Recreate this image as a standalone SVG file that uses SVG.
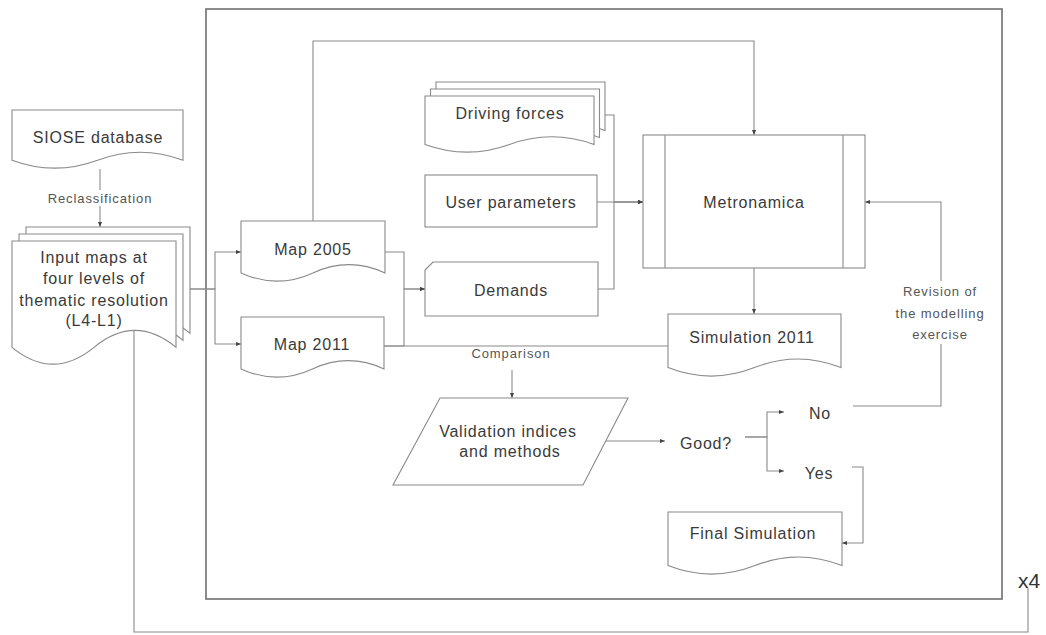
<svg xmlns="http://www.w3.org/2000/svg" width="1046" height="635" viewBox="0 0 1046 635">
<style>
.s{fill:#fff;stroke:#8a8a8a;stroke-width:1.1}
.c{fill:none;stroke:#8a8a8a;stroke-width:1.1}
.ca{fill:none;stroke:#8a8a8a;stroke-width:1.1;marker-end:url(#ah)}
.t{font-family:"Liberation Sans",Arial,Helvetica,sans-serif;font-size:16px;letter-spacing:0.8px;fill:#3a3a3a;text-anchor:middle;dominant-baseline:central}
.l{font-family:"Liberation Sans",Arial,Helvetica,sans-serif;font-size:13px;letter-spacing:0.9px;fill:#555;text-anchor:middle;dominant-baseline:central}
.bg{fill:#fff;stroke:none}
</style>
<defs>
<marker id="ah" viewBox="0 0 10 10" refX="10" refY="5" markerWidth="6" markerHeight="5" markerUnits="userSpaceOnUse" orient="auto">
<path d="M0,1 L10,5 L0,9 Z" fill="#444"/>
</marker>
</defs>
<rect width="1046" height="635" fill="#fff"/>

<g id="frame">
<rect x="206" y="9" width="796" height="590" fill="none" stroke="#707070" stroke-width="1.6"/>
</g>

<g id="connectors">
<path class="ca" d="M100,169 V227"/>
<rect class="bg" x="44" y="190" width="112" height="16"/>
<text class="l" x="100" y="198">Reclassification</text>
<path class="ca" d="M190,289 H215 V252 H241"/>
<path class="ca" d="M190,289 H215 V344 H241"/>
<path class="ca" d="M313,221 V41 H754 V135"/>
<path class="ca" d="M385,252 H404 V289 H425"/>
<path class="ca" d="M384,346 H404 V289 H425"/>
<path class="c" d="M384,346 H668"/>
<text class="l" x="511" y="353">Comparison</text>
<path class="ca" d="M512,370 V398"/>
<path class="ca" d="M605,115 H614 V202 H643"/>
<path class="ca" d="M597,202 H643"/>
<path class="ca" d="M598,289 H614 V202 H643"/>
<path class="ca" d="M754,268 V314"/>
<path class="ca" d="M606,441 H665"/>
<path class="ca" d="M745,437 H767 V412 H784"/>
<path class="ca" d="M745,437 H767 V471 H784"/>
<path class="ca" d="M853,406 H941 V202 H865"/>
<rect class="bg" x="894" y="281" width="94" height="63"/>
<text class="l" x="940" y="291">Revision of</text>
<text class="l" x="940" y="313">the modelling</text>
<text class="l" x="940" y="334">exercise</text>
<path class="ca" d="M852,467 H863 V543 H842"/>
<path class="c" d="M134,331 V632 H1028 V588"/>
</g>

<g id="siose">
<path class="s" d="M12,110 H183 V160.2 Q140.3,144.2 97.5,160.2 Q54.8,176.1 12,160.2 Z"/>
<text class="t" x="98" y="137">SIOSE database</text>
</g>

<g id="input-maps">
<path class="s" d="M26,227 H190 V333.3 Q149,299.5 108,333.3 Q67,367 26,333.3 Z"/>
<path class="s" d="M19,234 H183 V340.3 Q142,306.5 101,340.3 Q60,374 19,340.3 Z"/>
<path class="s" d="M12,241 H176 V347.3 Q135,313.5 94,347.3 Q53,381 12,347.3 Z"/>
<text class="t" x="94" y="257">Input maps at</text>
<text class="t" x="94" y="278">four levels of</text>
<text class="t" x="94" y="300">thematic resolution</text>
<text class="t" x="94" y="320">(L4-L1)</text>
</g>

<g id="map2005">
<path class="s" d="M241,221 H385 V272.9 Q349,256.4 313,272.9 Q277,289.3 241,272.9 Z"/>
<text class="t" x="313" y="249">Map 2005</text>
</g>

<g id="map2011">
<path class="s" d="M241,317 H384 V368.9 Q348.3,352.4 312.5,368.9 Q276.8,385.3 241,368.9 Z"/>
<text class="t" x="312" y="344">Map 2011</text>
</g>

<g id="driving-forces">
<path class="s" d="M436,82 H605 V130.5 Q562.8,115.1 520.5,130.5 Q478.3,145.8 436,130.5 Z"/>
<path class="s" d="M430.5,89 H599.5 V137.5 Q557.3,122.1 515,137.5 Q472.8,152.8 430.5,137.5 Z"/>
<path class="s" d="M425,96 H594 V144.5 Q551.8,129.1 509.5,144.5 Q467.3,159.8 425,144.5 Z"/>
<text class="t" x="510" y="113">Driving forces</text>
</g>

<g id="user-parameters">
<rect class="s" x="425" y="175" width="172" height="52"/>
<text class="t" x="511" y="202">User parameters</text>
</g>

<g id="demands">
<path class="s" d="M433,262 H598 V316 H425 V270 Z"/>
<text class="t" x="511" y="290">Demands</text>
</g>

<g id="metronamica">
<rect class="s" x="643" y="135" width="222" height="133"/>
<path class="c" d="M665,135 V268 M843,135 V268"/>
<text class="t" x="754" y="202">Metronamica</text>
</g>

<g id="simulation2011">
<path class="s" d="M668,314 H841 V367.6 Q797.8,350.5 754.5,367.6 Q711.3,384.6 668,367.6 Z"/>
<text class="t" x="752" y="337">Simulation 2011</text>
</g>

<g id="validation">
<path class="s" d="M440,398 H628 L583,485 H393 Z"/>
<text class="t" x="508" y="431">Validation indices</text>
<text class="t" x="510" y="451">and methods</text>
</g>

<g id="good">
<text class="t" x="706" y="443">Good?</text>
</g>

<g id="no">
<text class="t" x="820" y="413">No</text>
</g>

<g id="yes">
<text class="t" x="819" y="473">Yes</text>
</g>

<g id="final-simulation">
<path class="s" d="M668,512 H842 V565.6 Q798.5,548.5 755,565.6 Q711.5,582.6 668,565.6 Z"/>
<text class="t" x="753" y="533">Final Simulation</text>
</g>

<g id="x4">
<text x="1029" y="580" font-family="Liberation Sans,Arial,sans-serif" font-size="21" fill="#333" text-anchor="middle" dominant-baseline="central">x4</text>
</g>
</svg>
